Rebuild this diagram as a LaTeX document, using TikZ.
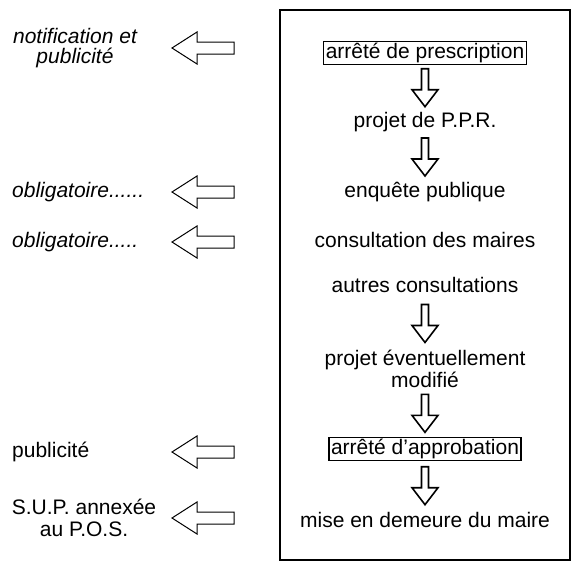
\documentclass[tikz,border=0pt]{standalone}
\usepackage{fontspec}
\setmainfont{Liberation Sans}
\usetikzlibrary{calc}
\begin{document}
\begin{tikzpicture}[x=1pt,y=-1pt,
  txt/.style={font=\fontsize{21}{23}\selectfont, inner sep=2pt, text height=15pt, text depth=4.5pt},
  txtml/.style={font=\fontsize{21}{22}\selectfont, inner sep=2pt, align=center},
  ital/.style={txt, font=\fontsize{21}{23}\selectfont\itshape},
  italml/.style={txtml, font=\fontsize{21}{20}\selectfont\itshape},
  framed/.style={txt, draw, line width=1.2pt},
  frame/.style={line width=1.8pt},
  downarr/.pic={\draw[line width=1.6pt, line join=miter] (-3.5,-19) -- (3.5,-19) -- (3.5,2) -- (13,2) -- (0,19) -- (-13,2) -- (-3.5,2) -- cycle;},
  leftarr/.pic={\draw[line width=1pt] (-31,0) -- (-6,-16) -- (-6,-6) -- (31,-6) -- (31,6) -- (-6,6) -- (-6,16) -- cycle;}
]
\useasboundingbox (0,0) rectangle (572,562);
\draw[frame] (280,10) rectangle (570,560);
% right column
\node[framed] (pres) at (425,53) {arrêté de prescription};
\node[txt] (ppr) at (425,122) {projet de P.P.R.};
\node[txt] (enq) at (425,192) {enquête publique};
\node[txt] (cons) at (425,242) {consultation des maires};
\node[txt] (autres) at (425,287) {autres consultations};
\node[txtml] (proj) at (425,369) {projet éventuellement\\modifié};
\node[framed] (appro) at (425,449) {arrêté d'approbation};
\node[txt] (mise) at (425,522) {mise en demeure du maire};
\pic at ($(pres.south)!.5!(ppr.north)$) {downarr};
\pic at ($(ppr.south)!.5!(enq.north)$) {downarr};
\pic at ($(autres.south)!.5!(proj.north)$) {downarr};
\pic at ($(proj.south)!.5!(appro.north)$) {downarr};
\pic at ($(appro.south)!.5!(mise.north)$) {downarr};
% left column
\node[italml] (notif) at (75,48) {notification et\\publicité};
\node[ital, anchor=west] (obl1) at (10,192) {obligatoire......};
\node[ital, anchor=west] (obl2) at (10,242) {obligatoire.....};
\node[txt, anchor=west] (pub) at (10,452) {publicité};
\node[txtml] (sup) at (84,518) {S.U.P. annexée\\au P.O.S.};
\coordinate (ax) at (203,0);
\pic at (ax |- notif) {leftarr};
\pic at (ax |- obl1) {leftarr};
\pic at (ax |- obl2) {leftarr};
\pic at (ax |- pub) {leftarr};
\pic at (ax |- sup) {leftarr};
\end{tikzpicture}
\end{document}
